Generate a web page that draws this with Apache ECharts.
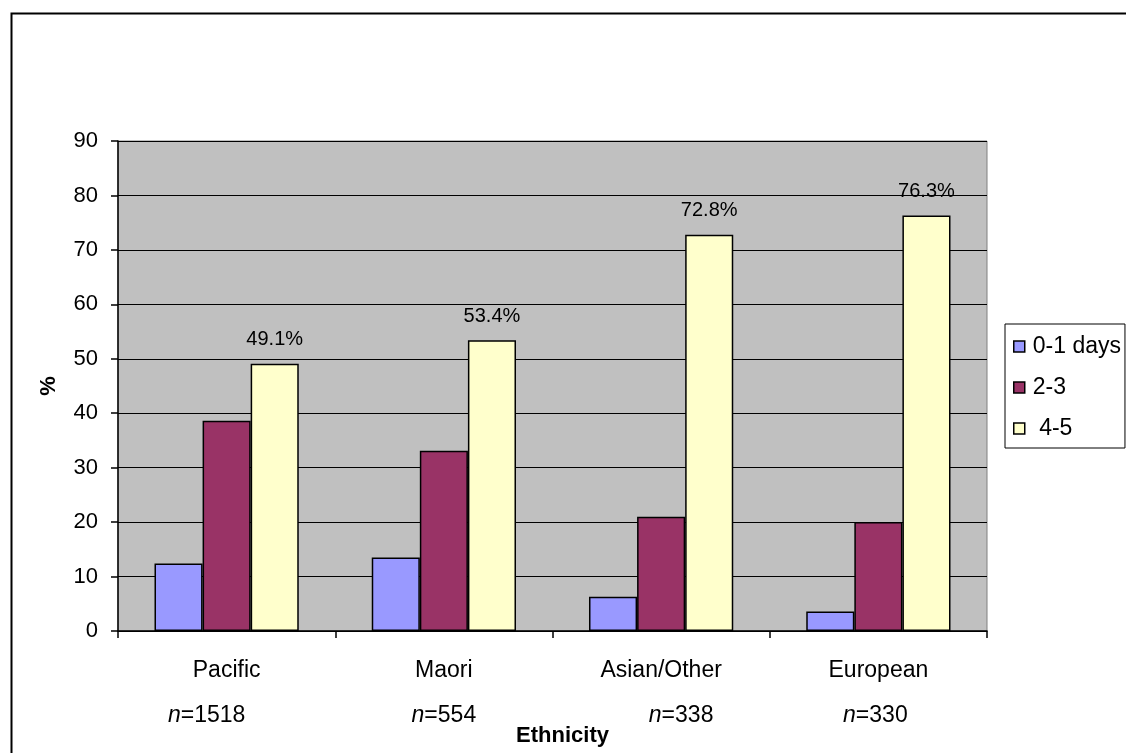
<!DOCTYPE html>
<html>
<head>
<meta charset="utf-8">
<script src="https://cdn.jsdelivr.net/npm/echarts@6/dist/echarts.min.js"></script>
<style>
  html, body { margin: 0; padding: 0; background: #fff; }
  #chart { width: 1126px; height: 753px; }
</style>
</head>
<body>
<div id="chart"></div>
<script>
// Share of students by days per week, grouped by ethnicity
const categories = ['Pacific', 'Maori', 'Asian/Other', 'European'];
const sampleSizes = [1518, 554, 338, 330];
const seriesNames = ['0-1 days', '2-3', ' 4-5'];
const days01 = [12.4, 13.5, 6.3, 3.6];
const days23 = [38.6, 33.1, 21.0, 20.0];
const days45 = [49.1, 53.4, 72.8, 76.3];
const yTicks = { min: 0, max: 90, interval: 10 };

const FONT = '"Liberation Sans", Arial, sans-serif';
const colors = ['#9999FF', '#993366', '#FFFFCC'];

// horizontal nudge of the sample-size line under each category label
const nShift = [-20, 0, 20, -3];
const rich = {};
nShift.forEach((s, i) => {
  rich['a' + i] = { fontFamily: FONT, fontSize: 23, fontStyle: 'italic', lineHeight: 45, color: '#000',
    padding: [0, 0, 0, s > 0 ? 2 * s : 0] };
  rich['b' + i] = { fontFamily: FONT, fontSize: 23, lineHeight: 45, color: '#000',
    padding: [0, s < 0 ? -2 * s : 0, 0, 0] };
});

const chart = echarts.init(document.getElementById('chart'), null, { renderer: 'canvas' });

function barSeries(name, data, color, withLabel) {
  return {
    name: name,
    type: 'bar',
    data: data,
    barGap: 0,
    barCategoryGap: '33.6%',
    itemStyle: { color: color, borderColor: '#000', borderWidth: 1.5 },
    label: withLabel ? {
      show: true, position: 'top', distance: 14,
      formatter: p => p.value.toFixed(1) + '%',
      fontFamily: FONT, fontSize: 20, color: '#000'
    } : { show: false },
    emphasis: { disabled: true },
    animation: false
  };
}

chart.setOption({
  animation: false,
  backgroundColor: '#fff',
  textStyle: { fontFamily: FONT },
  graphic: [{
    type: 'rect', left: 9, top: 11, silent: true,
    shape: { x: 0, y: 0, width: 1140, height: 770 },
    style: { fill: 'none', stroke: '#000', lineWidth: 2 }
  }],
  grid: {
    left: 118, top: 141, width: 869, height: 490,
    show: true, backgroundColor: '#C0C0C0', borderColor: '#808080', borderWidth: 1,
    containLabel: false,
    outerBoundsMode: 'none'
  },
  legend: {
    orient: 'vertical', left: 1005, top: 324,
    data: seriesNames,
    itemWidth: 11, itemHeight: 11, itemGap: 18,
    padding: [11, 4, 8, 8],
    borderColor: '#000', borderWidth: 1,
    icon: 'rect',
    itemStyle: { borderColor: '#000', borderWidth: 1.5 },
    textStyle: { fontFamily: FONT, fontSize: 23, color: '#000', padding: [0, 0, 0, 3] },
    selectedMode: false
  },
  xAxis: {
    type: 'category',
    data: categories,
    name: 'Ethnicity',
    nameLocation: 'middle',
    nameGap: 94,
    nameMoveOverlap: false,
    nameTextStyle: { fontFamily: FONT, fontSize: 22, fontWeight: 'bold', color: '#000', padding: [0, 0, 0, 20] },
    axisLine: { lineStyle: { color: '#000', width: 1.5 } },
    axisTick: { show: true, length: 7, lineStyle: { color: '#000', width: 1.5 } },
    axisLabel: {
      interval: 0,
      margin: 17,
      fontFamily: FONT, fontSize: 23, color: '#000', lineHeight: 45,
      formatter: (v, i) => v + '\n{a' + i + '|n}{b' + i + '|=' + sampleSizes[i] + '}',
      rich: rich
    },
    splitLine: { show: false }
  },
  yAxis: {
    type: 'value',
    min: yTicks.min, max: yTicks.max, interval: yTicks.interval,
    name: '%',
    nameLocation: 'middle',
    nameGap: 58,
    nameTextStyle: { fontFamily: FONT, fontSize: 22, fontWeight: 'bold', color: '#000' },
    axisLine: { show: true, lineStyle: { color: '#000', width: 1.5 } },
    axisTick: { show: true, length: 7, lineStyle: { color: '#000', width: 1.5 } },
    axisLabel: { margin: 20, fontFamily: FONT, fontSize: 22, color: '#000' },
    splitLine: { show: true, lineStyle: { color: '#000', width: 1.2 } }
  },
  series: [
    barSeries(seriesNames[0], days01, colors[0], false),
    barSeries(seriesNames[1], days23, colors[1], false),
    barSeries(seriesNames[2], days45, colors[2], true)
  ]
});
</script>
</body>
</html>
